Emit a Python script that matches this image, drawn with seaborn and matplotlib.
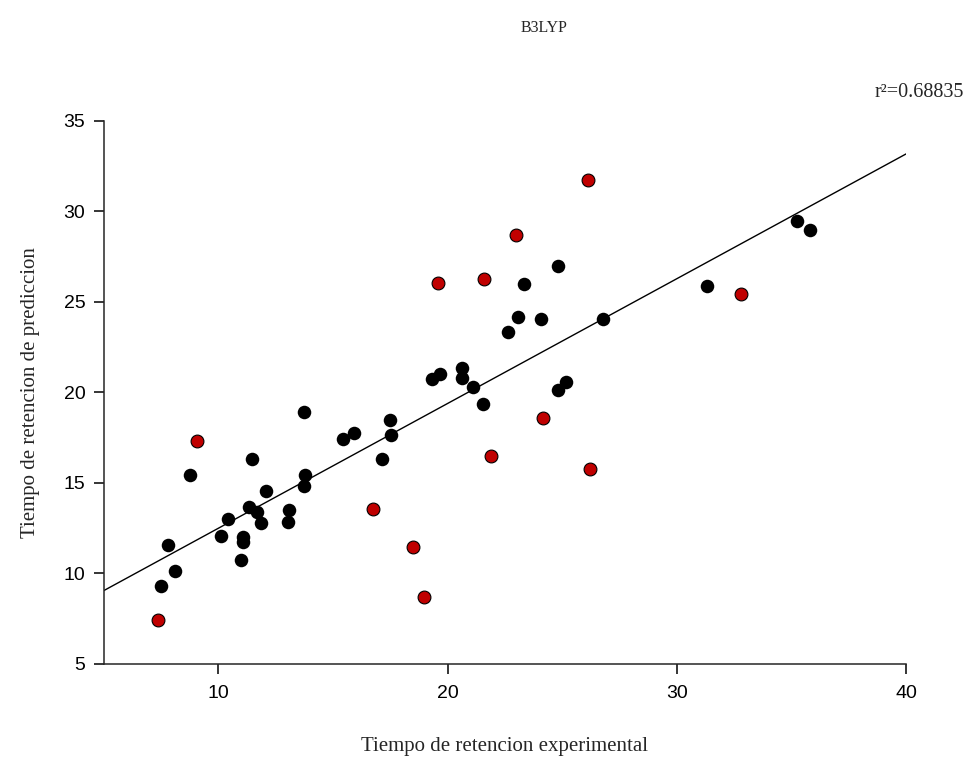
import numpy as np
import pandas as pd
import matplotlib
matplotlib.use("Agg")
import matplotlib.pyplot as plt
import seaborn as sns

# values
train_x = [7.48, 7.79, 8.11, 8.76, 10.10, 10.43, 10.97, 11.07, 11.07, 11.36,
           11.48, 11.70, 11.86, 12.07, 13.06, 13.08, 13.73, 13.78, 13.73, 15.44,
           15.91, 17.16, 17.48, 17.52, 19.34, 19.66, 20.65, 20.65, 21.11, 21.56,
           22.64, 23.06, 23.32, 24.09, 24.80, 24.80, 25.15, 26.80, 31.31, 35.25,
           35.80]
train_y = [9.33, 11.56, 10.12, 15.46, 12.07, 13.00, 10.75, 12.00, 11.72, 13.69,
           16.34, 13.41, 12.77, 14.57, 12.86, 13.53, 18.91, 15.46, 14.85, 17.41,
           17.75, 16.31, 18.48, 17.65, 20.75, 21.00, 21.34, 20.78, 20.32, 19.36,
           23.33, 24.15, 26.00, 24.04, 26.99, 20.14, 20.60, 24.07, 25.88, 29.49,
           28.98]
test_x = [7.35, 9.05, 16.75, 18.50, 18.98, 19.57, 21.58, 21.88, 22.97, 24.18,
          26.14, 26.23, 32.81]
test_y = [7.43, 17.34, 13.56, 11.48, 8.68, 26.03, 26.29, 16.49, 28.72, 18.59,
          31.74, 15.79, 25.46]

# fitted line
fit_x = [5, 40]
fit_y = [9.05, 33.18]
r2_text = "r²=0.68835"
title = "B3LYP"

df = pd.DataFrame({
    "exp": train_x + test_x,
    "pred": train_y + test_y,
    "set": ["train"] * len(train_x) + ["test"] * len(test_x),
})

sns.set_style("ticks")
plt.rcParams["font.family"] = ["Liberation Sans", "DejaVu Sans"]
serif = ["Liberation Serif", "DejaVu Serif"]

fig = plt.figure(figsize=(9.68, 7.61), dpi=100)
ax = fig.add_axes([0.1071, 0.1275, 0.8289, 0.7135])

sns.lineplot(x=fit_x, y=fit_y, ax=ax, color="black", linewidth=1.0)
sns.scatterplot(data=df[df["set"] == "train"], x="exp", y="pred", ax=ax,
                color="black", s=95, linewidth=0, legend=False, zorder=3)
sns.scatterplot(data=df[df["set"] == "test"], x="exp", y="pred", ax=ax,
                color="#C00000", s=85, edgecolor="black", linewidth=0.8,
                legend=False, zorder=3)

ax.set_xlim(5, 40)
ax.set_ylim(5, 35)
ax.set_xticks([10, 20, 30, 40])
ax.set_yticks([5, 10, 15, 20, 25, 30, 35])
sns.despine(ax=ax)
for s in ["left", "bottom"]:
    ax.spines[s].set_linewidth(1.1)
ax.tick_params(axis="both", direction="out", length=7.2, width=1.1,
               labelsize=14, colors="black")
ax.tick_params(axis="x", pad=8)
ax.tick_params(axis="y", pad=6)

ax.set_xlabel("Tiempo de retencion experimental", family=serif, fontsize=15,
              labelpad=25)
ax.set_ylabel("Tiempo de retencion de prediccion", family=serif, fontsize=15,
              labelpad=17)

fig.text(0.562, 0.963, title, family=serif, fontsize=11.5,
         ha="center", va="center")
fig.text(0.996, 0.878, r2_text, family=serif, fontsize=14.5,
         ha="right", va="center")

fig.savefig("out.png", dpi=100)
